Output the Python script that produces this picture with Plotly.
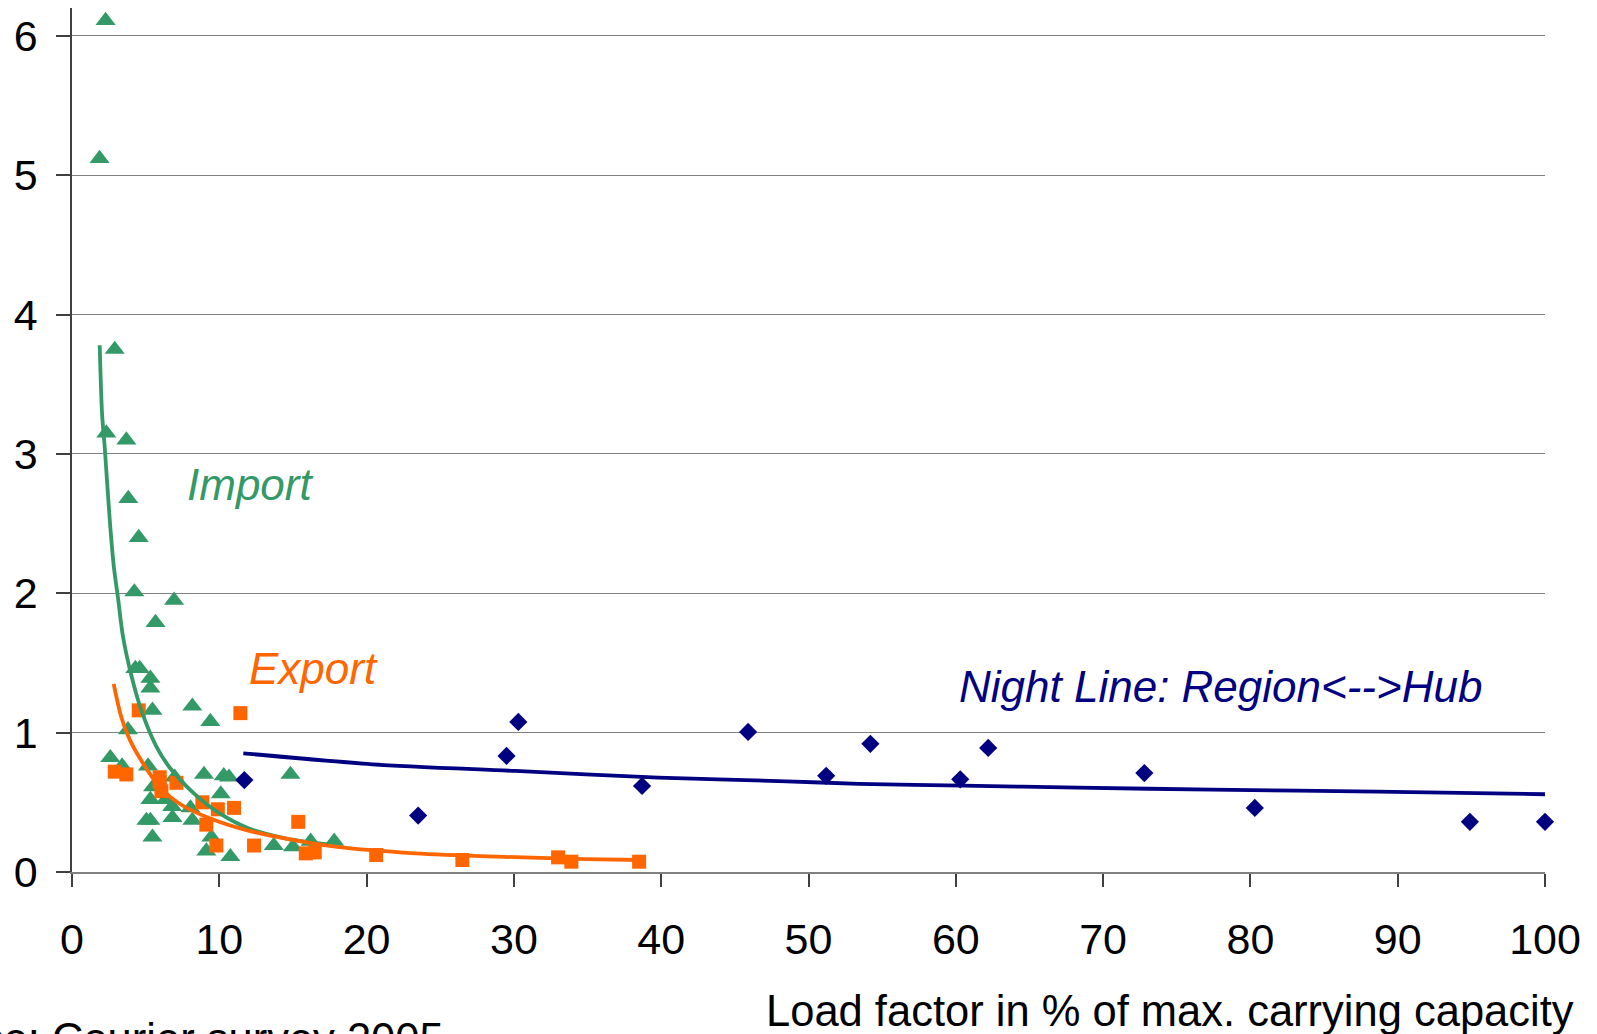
import plotly.graph_objects as go

# ---- data ----
import_x = [2.28, 1.87, 2.9, 2.33, 3.69, 3.82, 4.53, 4.23, 6.93, 5.67, 4.3, 4.6, 5.32, 5.32, 5.46,
            8.17, 9.39, 3.8, 2.6, 3.4, 5.16, 6.97, 8.96, 10.3, 10.66, 14.83, 5.5, 10.1, 5.32, 6.36,
            6.8, 8.04, 5.05, 5.32, 6.82, 8.17, 5.46, 9.46, 9.12, 10.75, 13.7, 15.0, 16.2, 17.8]
import_y = [6.11, 5.12, 3.75, 3.15, 3.10, 2.68, 2.40, 2.01, 1.95, 1.79, 1.46, 1.46, 1.39, 1.32, 1.16,
            1.19, 1.08, 1.02, 0.82, 0.76, 0.76, 0.68, 0.70, 0.69, 0.68, 0.70, 0.61, 0.56, 0.52, 0.52,
            0.47, 0.46, 0.37, 0.37, 0.39, 0.37, 0.25, 0.25, 0.15, 0.11, 0.19, 0.18, 0.22, 0.22]

export_x = [4.53, 11.43, 2.9, 3.69, 5.95, 5.95, 6.07, 7.09, 8.85, 9.9, 11.0, 9.12, 15.36, 9.8,
            12.36, 15.87, 16.48, 20.65, 26.5, 33.0, 33.9, 38.5]
export_y = [1.16, 1.14, 0.72, 0.70, 0.68, 0.65, 0.58, 0.64, 0.50, 0.45, 0.46, 0.34, 0.36, 0.19,
            0.19, 0.134, 0.141, 0.122, 0.086, 0.105, 0.074, 0.074]

night_x = [11.7, 23.5, 29.5, 30.3, 38.7, 45.9, 51.2, 54.2, 60.3, 62.2, 72.8, 80.3, 94.9, 100]
night_y = [0.66, 0.405, 0.833, 1.077, 0.617, 1.005, 0.69, 0.92, 0.665, 0.89, 0.71, 0.46, 0.36, 0.36]

# trend lines
import_trend_x = [1.88, 2.04, 2.22, 2.56, 2.83, 3.13, 3.46, 4.03, 4.71, 5.73, 6.63, 8.22, 10.03, 12.06, 14.55, 17.95]
import_trend_y = [3.78, 3.29, 3.05, 2.53, 2.20, 1.96, 1.69, 1.41, 1.16, 0.90, 0.75, 0.57, 0.42, 0.31, 0.24, 0.19]

export_trend_x = [2.83, 3.35, 3.92, 4.82, 5.95, 7.31, 9.35, 11.84, 15.0, 18.0, 23.3, 28.9, 34.9, 38.5]
export_trend_y = [1.35, 1.11, 0.95, 0.78, 0.61, 0.49, 0.385, 0.30, 0.23, 0.18, 0.134, 0.11, 0.093, 0.086]

night_trend_x = [11.63, 20.4, 30.1, 39.8, 48.5, 53.4, 60.5, 68.3, 77.4, 88.6, 100]
night_trend_y = [0.852, 0.773, 0.725, 0.677, 0.651, 0.633, 0.62, 0.605, 0.591, 0.577, 0.558]

x_ticks = [0, 10, 20, 30, 40, 50, 60, 70, 80, 90, 100]
y_ticks = [0, 1, 2, 3, 4, 5, 6]

GREEN = "#339966"
ORANGE = "#FF6600"
NAVY = "#000080"
FONT = "Liberation Sans, Arial, sans-serif"

fig = go.Figure()

fig.add_trace(go.Scatter(x=import_x, y=import_y, mode="markers",
                         marker=dict(symbol="triangle-up", size=17.5, color=GREEN, line=dict(width=0)),
                         cliponaxis=False, showlegend=False))
fig.add_trace(go.Scatter(x=export_x, y=export_y, mode="markers",
                         marker=dict(symbol="square", size=14, color=ORANGE, line=dict(width=0)),
                         cliponaxis=False, showlegend=False))
fig.add_trace(go.Scatter(x=night_x, y=night_y, mode="markers",
                         marker=dict(symbol="diamond", size=14, color=NAVY, line=dict(width=0)),
                         cliponaxis=False, showlegend=False))

fig.add_trace(go.Scatter(x=import_trend_x, y=import_trend_y, mode="lines",
                         line=dict(color=GREEN, width=3.8, shape="spline", smoothing=0.8),
                         showlegend=False))
fig.add_trace(go.Scatter(x=export_trend_x, y=export_trend_y, mode="lines",
                         line=dict(color=ORANGE, width=3.8, shape="spline", smoothing=0.8),
                         showlegend=False))
fig.add_trace(go.Scatter(x=night_trend_x, y=night_trend_y, mode="lines",
                         line=dict(color=NAVY, width=3.8, shape="spline", smoothing=0.8),
                         showlegend=False))

fig.update_layout(
    width=1597, height=1034,
    margin=dict(l=72, r=52, t=8, b=162, autoexpand=False),
    paper_bgcolor="white", plot_bgcolor="white",
    font=dict(family=FONT, color="black", size=43),
    xaxis=dict(range=[0, 100], tickvals=x_ticks, ticktext=[str(v) for v in x_ticks],
               showgrid=False, zeroline=False, showline=True, linecolor="#808080", linewidth=1.5,
               ticks="outside", ticklen=13, tickcolor="#404040", tickwidth=1.5,
               tickfont=dict(size=43, family=FONT), ticklabelstandoff=16),
    yaxis=dict(range=[0, 6.2], tickvals=y_ticks, ticktext=[str(v) for v in y_ticks],
               showgrid=True, gridcolor="#808080", gridwidth=1.2, zeroline=False,
               showline=True, linecolor="#404040", linewidth=1.5,
               ticks="outside", ticklen=14, tickcolor="#404040", tickwidth=1.5,
               tickfont=dict(size=43, family=FONT), ticklabelstandoff=10),
    annotations=[
        dict(text="<i>Import</i>", x=7.65, y=2.78, xref="x", yref="y", xanchor="left", yanchor="middle",
             showarrow=False, font=dict(size=44, color=GREEN, family=FONT)),
        dict(text="<i>Export</i>", x=11.9, y=1.46, xref="x", yref="y", xanchor="left", yanchor="middle",
             showarrow=False, font=dict(size=44, color=ORANGE, family=FONT)),
        dict(text="<i>Night Line: Region&lt;--&gt;Hub</i>", x=60.1, y=1.33, xref="x", yref="y",
             xanchor="left", yanchor="middle",
             showarrow=False, font=dict(size=44, color=NAVY, family=FONT)),
        dict(text="Load factor in % of max. carrying capacity", x=(1576 - 72) / 1473,
             y=(872 - 1011) / 864, xref="paper", yref="paper", xanchor="right", yanchor="middle",
             showarrow=False, font=dict(size=43.5, color="black", family=FONT)),
        dict(text="Source: Courier survey 2005", x=(446 - 72) / 1473,
             y=(872 - 1039) / 864, xref="paper", yref="paper", xanchor="right", yanchor="middle",
             showarrow=False, font=dict(size=43.5, color="black", family=FONT)),
    ],
)

fig.write_html("out.html")
